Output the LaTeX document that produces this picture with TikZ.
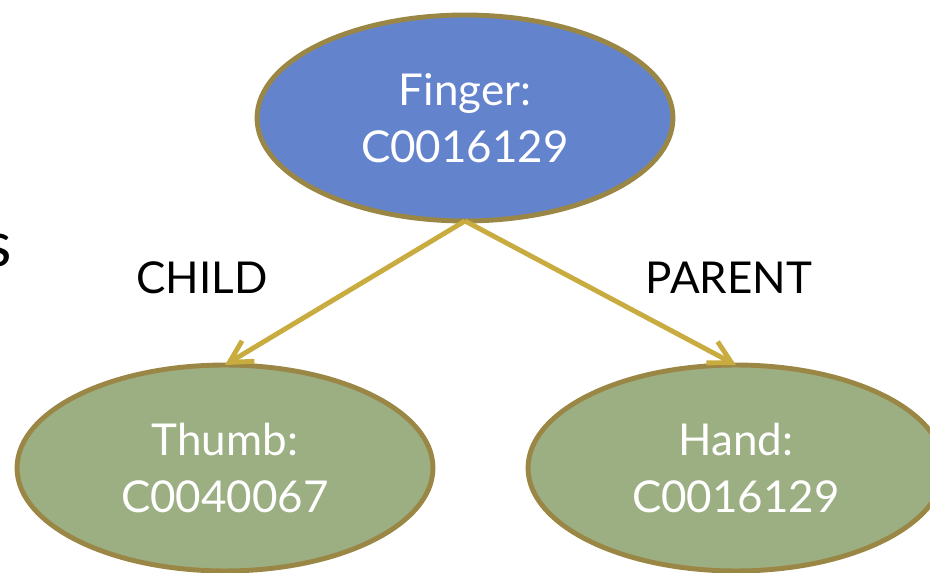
\documentclass[tikz,border=0pt]{standalone}
\usepackage{fontspec}
\setmainfont{Lato}
\usepackage{tkz-graph}
\usetikzlibrary{arrows.meta,shapes.geometric}

\definecolor{conceptblue}{RGB}{100,131,205}
\definecolor{conceptgreen}{RGB}{156,175,131}
\definecolor{rimbrown}{RGB}{154,135,70}
\definecolor{linkgold}{RGB}{200,172,64}

\begin{document}
\begin{tikzpicture}[x=0.02cm, y=-0.02cm]
   \useasboundingbox (0,0) rectangle (930,573);
   \tikzset{VertexStyle/.style={shape=ellipse, draw=rimbrown, line width=2.8pt,
      minimum width=8.32cm, minimum height=4.12cm, inner sep=0pt,
      text=white, align=center, font=\fontsize{25}{32.4}\selectfont}}
   \tikzset{EdgeStyle/.style={-{Straight Barb[length=4.4mm, width=4.8mm]},
      draw=linkgold, line width=2.8pt}}
   \tikzset{RelStyle/.style={font=\fontsize{25}{30}\selectfont}}

   \Vertex[x=465, y=118, L={Finger:\\C0016129}, style={fill=conceptblue}]{finger}
   \Vertex[x=225, y=468, L={Thumb:\\C0040067}, style={fill=conceptgreen}]{thumb}
   \Vertex[x=736, y=468, L={Hand:\\C0016129}, style={fill=conceptgreen}]{hand}

   \draw[EdgeStyle] (finger.south) -- (thumb.north);
   \draw[EdgeStyle] (finger.south) -- (hand.north);

   \node[RelStyle] (child) at (202,278) {CHILD};
   \node[RelStyle] (parent) at (729,278) {PARENT};
%   cut-off word at the left margin
   \node[anchor=base east, inner sep=0pt, font=\fontsize{36}{40}\selectfont] (cut) at (12,267) {s};
\end{tikzpicture}
\end{document}
